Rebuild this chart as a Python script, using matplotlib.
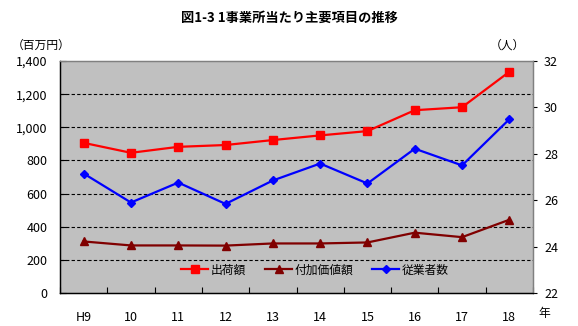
import matplotlib
matplotlib.use("Agg")
import matplotlib.pyplot as plt
from matplotlib.ticker import FuncFormatter
import numpy as np

plt.rcParams['font.family'] = ['Noto Sans CJK JP', 'DejaVu Sans']

years = ["H9", "10", "11", "12", "13", "14", "15", "16", "17", "18"]
shipments = [906, 846, 882, 893, 923, 951, 977, 1103, 1121, 1335]       # 出荷額 (百万円)
value_added = [311, 287, 287, 286, 299, 299, 305, 364, 337, 442]        # 付加価値額 (百万円)
employees = [27.15, 25.9, 26.76, 25.84, 26.85, 27.58, 26.72, 28.22, 27.5, 29.49]  # 従業者数 (人)

fig = plt.figure(figsize=(5.78, 3.26), dpi=100)
fig.patch.set_facecolor("white")
ax = fig.add_axes([60/578, 33/326, 473/578, 232/326])
ax.set_facecolor("#C0C0C0")
ax2 = ax.twinx()

x = np.arange(len(years))
l1, = ax.plot(x, shipments, color="#FF0000", lw=1.6, marker="s", ms=5.5,
              mec="#FF0000", mfc="#FF0000", label="出荷額", zorder=3)
l2, = ax.plot(x, value_added, color="#800000", lw=1.6, marker="^", ms=5.5,
              mec="#800000", mfc="#800000", label="付加価値額", zorder=3)
l3, = ax2.plot(x, employees, color="#0000FF", lw=1.6, marker="D", ms=4,
               mec="#0000FF", mfc="#0000FF", label="従業者数", zorder=3)

ax.set_xlim(-0.5, len(years) - 0.5)
ax.set_ylim(0, 1400)
ax2.set_ylim(22, 32)

ax.set_yticks(np.arange(0, 1401, 200))
ax.yaxis.set_major_formatter(FuncFormatter(lambda v, p: f"{int(v):,}"))
ax2.set_yticks(np.arange(22, 33, 2))

for yv in range(200, 1400, 200):
    ax.axhline(yv, color="black", lw=0.8, ls=(0, (3, 2)), zorder=1)

ax.set_xticks(x)
ax.set_xticklabels(years)
ax.set_xticks(np.arange(-0.5, len(years)), minor=True)
ax.tick_params(axis="x", which="major", length=0, pad=13, labelsize=9)
ax.tick_params(axis="x", which="minor", direction="in", length=4, width=0.8)
ax.tick_params(axis="y", direction="in", length=4, width=0.8, labelsize=9, pad=9)
ax2.tick_params(axis="y", direction="out", length=3, width=0.8, labelsize=9, pad=5)

for a in (ax, ax2):
    a.spines["left"].set_color("black")
    a.spines["bottom"].set_color("black")
    a.spines["top"].set_color("#808080")
    a.spines["right"].set_color("#808080")
    for s in a.spines.values():
        s.set_linewidth(0.9)

fig.text(0.5, 0.945, "図1-3 1事業所当たり主要項目の推移", ha="center", va="center",
         fontsize=9.5, fontweight="bold")
fig.text(12/578, 1 - 45/326, "（百万円）", ha="left", va="center", fontsize=8.5)
fig.text(490/578, 1 - 45/326, "（人）", ha="left", va="center", fontsize=8.5)
fig.text(538/578, 1 - 314/326, "年", ha="left", va="center", fontsize=8.5)

leg = ax.legend(handles=[l1, l2, l3], loc="center", bbox_to_anchor=(315/578, 1 - 270/326),
                bbox_transform=fig.transFigure, ncol=3, frameon=False, fontsize=8.5,
                handlelength=2.3, columnspacing=1.6, handletextpad=0.2)

fig.savefig("out.png", dpi=100)
